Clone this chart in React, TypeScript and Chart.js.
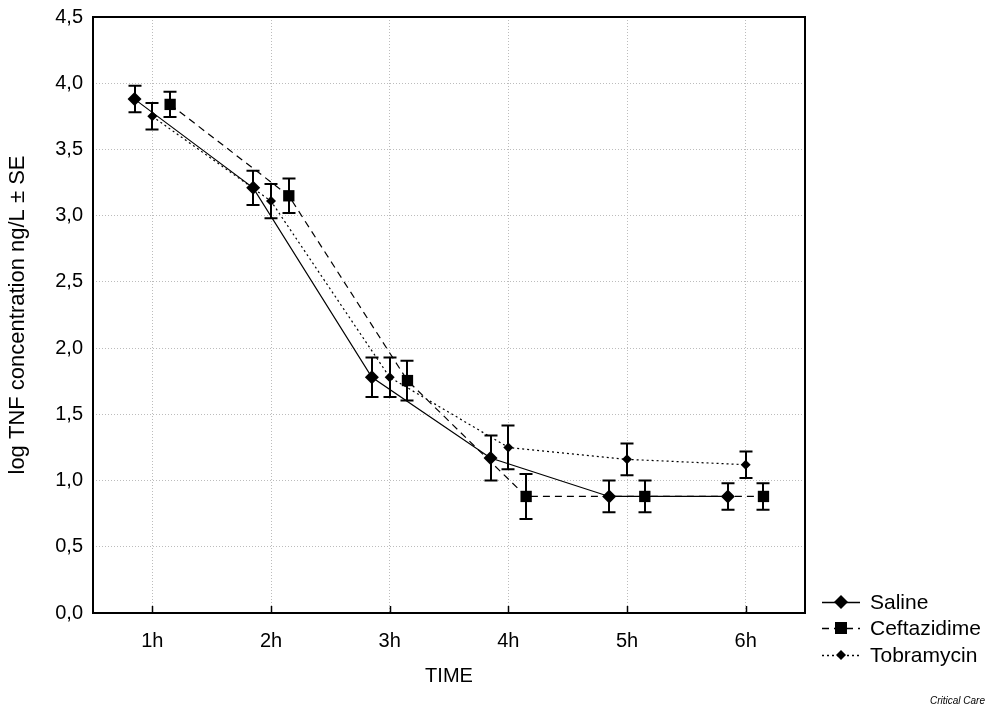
import React, { useEffect, useRef } from 'react';
import { Chart, registerables } from 'chart.js';

Chart.register(...registerables);

// ---- data ----
const hourLabels = ['1h', '2h', '3h', '4h', '5h', '6h'];
const hourValues = [1, 2, 3, 4, 5, 6];
const yTickValues = [0, 0.5, 1, 1.5, 2, 2.5, 3, 3.5, 4, 4.5];

const salineMean = [3.88, 3.21, 1.78, 1.17, 0.88, 0.88];
const salineSE = [0.1, 0.13, 0.15, 0.17, 0.12, 0.1];

const ceftazidimeMean = [3.84, 3.15, 1.755, 0.88, 0.88, 0.88];
const ceftazidimeSE = [0.095, 0.13, 0.15, 0.17, 0.12, 0.1];

const tobramycinMean = [3.75, 3.11, 1.78, 1.25, 1.16, 1.12];
const tobramycinSE = [0.1, 0.13, 0.15, 0.165, 0.12, 0.1];

const seriesNames = ['Saline', 'Ceftazidime', 'Tobramycin'];

const FONT = "'Liberation Sans', Arial, sans-serif";

export default function App() {
  const ref = useRef<HTMLCanvasElement>(null);

  useEffect(() => {
    if (!ref.current) return;

    const seriesDefs = [
      { name: seriesNames[0], mean: salineMean, se: salineSE, shift: -0.15, dash: [] as number[], style: 'rectRot', radius: 7 },
      { name: seriesNames[1], mean: ceftazidimeMean, se: ceftazidimeSE, shift: 0.15, dash: [7, 5], style: 'rect', radius: 8 },
      { name: seriesNames[2], mean: tobramycinMean, se: tobramycinSE, shift: 0, dash: [2, 3], style: 'rectRot', radius: 5 },
    ];

    const datasets = seriesDefs.map((s) => ({
      label: s.name,
      data: s.mean.map((m, i) => ({ x: hourValues[i] + s.shift, y: m })),
      borderColor: '#000',
      backgroundColor: '#000',
      borderWidth: 1.2,
      borderDash: s.dash,
      pointStyle: s.style,
      pointRadius: s.radius,
      pointBorderWidth: 0,
      pointBackgroundColor: '#000',
      pointBorderColor: '#000',
      tension: 0,
      fill: false,
    }));

    const errorBars = {
      id: 'errorBars',
      afterDatasetsDraw(chart: any) {
        const { ctx, scales } = chart;
        const x = scales.x;
        const y = scales.y;
        ctx.save();
        ctx.strokeStyle = '#000';
        ctx.lineWidth = 2;
        ctx.setLineDash([]);
        seriesDefs.forEach((s, di) => {
          const ds = chart.data.datasets[di];
          ds.data.forEach((p: any, i: number) => {
            const px = Math.round(x.getPixelForValue(p.x));
            const top = y.getPixelForValue(p.y + s.se[i]);
            const bot = y.getPixelForValue(p.y - s.se[i]);
            ctx.beginPath();
            ctx.moveTo(px, top);
            ctx.lineTo(px, bot);
            ctx.moveTo(px - 6.5, top);
            ctx.lineTo(px + 6.5, top);
            ctx.moveTo(px - 6.5, bot);
            ctx.lineTo(px + 6.5, bot);
            ctx.stroke();
          });
        });
        ctx.restore();
      },
    };

    const frame = {
      id: 'frame',
      beforeDatasetsDraw(chart: any) {
        const { ctx, chartArea: a, scales } = chart;
        ctx.save();
        ctx.setLineDash([]);
        ctx.strokeStyle = '#000';
        ctx.lineWidth = 1.5;
        // inside tick marks on x axis
        hourValues.forEach((v) => {
          const px = Math.round(scales.x.getPixelForValue(v)) + 0.5;
          ctx.beginPath();
          ctx.moveTo(px, a.bottom);
          ctx.lineTo(px, a.bottom - 7);
          ctx.stroke();
        });
        ctx.lineWidth = 2;
        ctx.strokeRect(a.left, a.top, a.right - a.left, a.bottom - a.top);
        ctx.restore();
      },
    };

    const legendAndNote = {
      id: 'customLegend',
      afterDraw(chart: any) {
        const { ctx } = chart;
        ctx.save();
        const rows = [602, 628, 655];
        seriesDefs.forEach((s, i) => {
          const cy = rows[i];
          ctx.strokeStyle = '#000';
          ctx.lineWidth = 1.5;
          ctx.setLineDash(s.dash);
          ctx.beginPath();
          ctx.moveTo(822, cy + 0.5);
          ctx.lineTo(860, cy + 0.5);
          ctx.stroke();
          ctx.setLineDash([]);
          ctx.fillStyle = '#000';
          ctx.beginPath();
          if (s.style === 'rect') {
            const h = 6;
            ctx.rect(841 - h, cy - h, 2 * h, 2 * h);
          } else {
            const r = s.radius;
            ctx.moveTo(841 - r, cy);
            ctx.lineTo(841, cy - r);
            ctx.lineTo(841 + r, cy);
            ctx.lineTo(841, cy + r);
            ctx.closePath();
          }
          ctx.fill();
          ctx.font = `21px ${FONT}`;
          ctx.textAlign = 'left';
          ctx.textBaseline = 'middle';
          ctx.fillText(s.name, 870, cy + 1);
        });
        ctx.font = `italic 10px ${FONT}`;
        ctx.textAlign = 'right';
        ctx.textBaseline = 'middle';
        ctx.fillText('Critical Care', 985, 701);
        ctx.restore();
      },
    };

    const chart = new Chart(ref.current, {
      type: 'line',
      data: { datasets: datasets as any },
      plugins: [frame, errorBars, legendAndNote],
      options: {
        responsive: false,
        animation: false,
        layout: { padding: { left: 0, top: 17, right: 195, bottom: 0 } },
        plugins: {
          legend: { display: false },
          tooltip: { enabled: false },
        },
        scales: {
          x: {
            type: 'linear',
            min: 0.5,
            max: 6.5,
            afterFit(scale: any) {
              scale.height = 95;
              scale.paddingLeft = 0;
              scale.paddingRight = 0;
            },
            afterBuildTicks(scale: any) {
              scale.ticks = hourValues.map((v) => ({ value: v }));
            },
            grid: {
              color: '#bcbcbc',
              lineWidth: 1,
              drawTicks: false,
            },
            border: { display: false, dash: [1, 2] },
            ticks: {
              color: '#000',
              font: { family: FONT, size: 20 },
              padding: 16,
              callback: (v: any) => {
                const idx = hourValues.indexOf(Number(v));
                return idx >= 0 ? hourLabels[idx] : '';
              },
            },
            title: {
              display: true,
              text: 'TIME',
              color: '#000',
              font: { family: FONT, size: 20 },
              padding: { top: 0, bottom: 20 },
            },
          },
          y: {
            type: 'linear',
            min: 0,
            max: 4.5,
            afterFit(scale: any) {
              scale.width = 93;
              scale.paddingTop = 0;
              scale.paddingBottom = 0;
            },
            afterBuildTicks(scale: any) {
              scale.ticks = yTickValues.map((v) => ({ value: v }));
            },
            grid: {
              color: '#bcbcbc',
              lineWidth: 1,
              drawTicks: false,
            },
            border: { display: false, dash: [1, 2] },
            ticks: {
              color: '#000',
              font: { family: FONT, size: 20 },
              padding: 10,
              callback: (v: any) => Number(v).toFixed(1).replace('.', ','),
            },
            title: {
              display: true,
              text: 'log TNF concentration ng/L ± SE',
              color: '#000',
              font: { family: FONT, size: 22 },
              padding: { top: 5, bottom: 0 },
            },
          },
        },
      },
    });

    return () => chart.destroy();
  }, []);

  return (
    <div style={{ position: 'fixed', left: 0, top: 0, width: 1000, height: 708, background: '#fff' }}>
      <canvas ref={ref} width={1000} height={708} />
    </div>
  );
}
